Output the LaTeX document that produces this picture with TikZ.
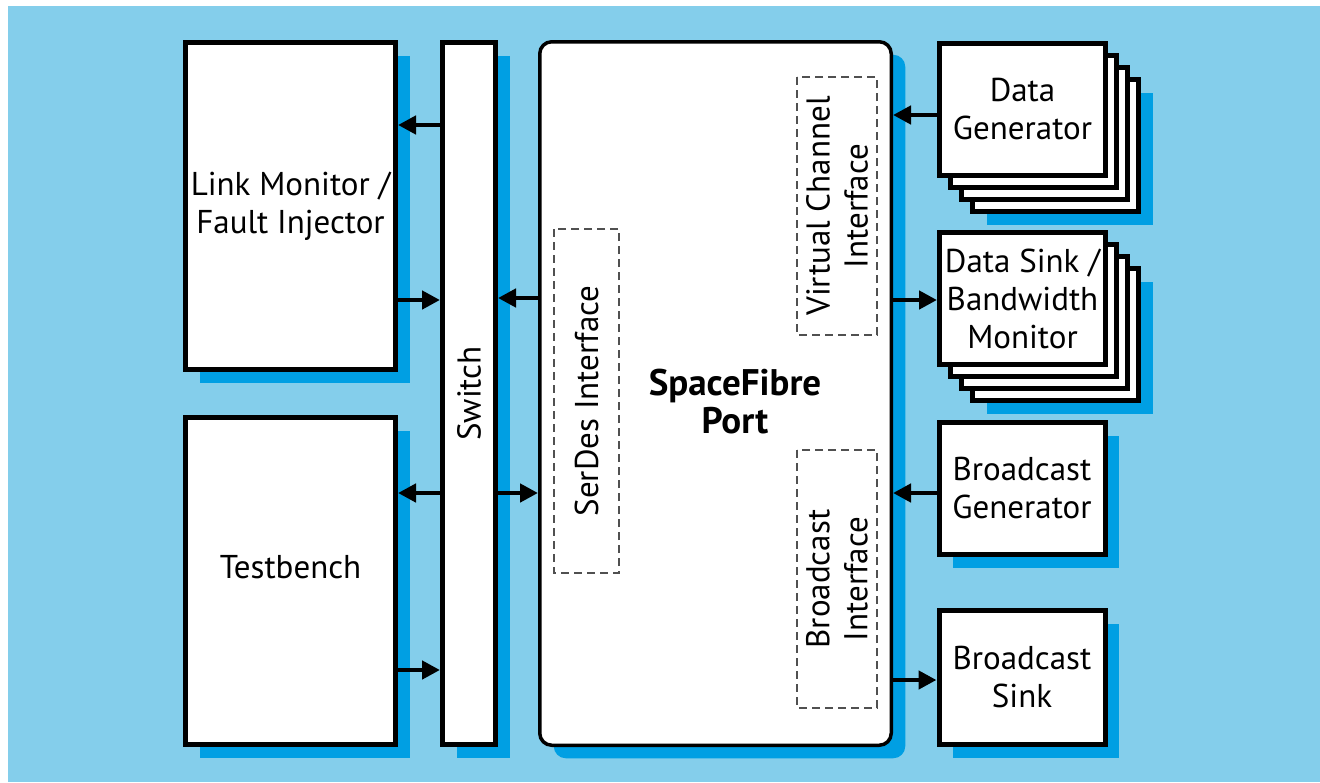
\documentclass[tikz,border=0pt]{standalone}
\usepackage{fontspec}
\setmainfont{PT Sans}
\usetikzlibrary{arrows.meta,shadows}
\definecolor{bgc}{RGB}{132,206,235}
\definecolor{shc}{RGB}{0,159,227}
\definecolor{dshc}{RGB}{80,80,80}
\begin{document}
\begin{tikzpicture}[x=1pt,y=-1pt,
  txt/.style={font=\fontsize{33}{38}\selectfont, align=center},
  blk/.style={draw=black, line width=5pt, fill=white, inner sep=0pt, txt},
  shd/.style={drop shadow={shadow xshift=14pt, shadow yshift=-13pt, fill=shc, opacity=1}},
  dsh/.style={draw=dshc, line width=1.5pt, dash pattern=on 8pt off 5pt, inner sep=0pt, txt},
  arr/.style={line width=4.5pt, -{Triangle[length=18pt,width=18pt]}},
  stk/.style={blk, minimum width=166pt, minimum height=132pt},
]
\useasboundingbox (0,0) rectangle (1320,782);
\fill[white] (0,0) rectangle (1320,782);
\fill[bgc] (8,6) rectangle (1320,782);

% left column
\node[blk, shd, minimum width=210pt, minimum height=327pt] (lm) at (290.5,206) {Link Monitor /\\Fault Injector};
\node[blk, shd, minimum width=210pt, minimum height=327pt] (tb) at (290.5,581) {};
\node[txt] (tbt) at ([yshift=14pt]tb.center) {Testbench};

% switch
\node[blk, shd, minimum width=53pt, minimum height=702pt] (sw) at (469,393.5) {};
\node[txt, rotate=90] (swt) at (sw.center) {Switch};

% port
\node[draw=black, line width=3.5pt, fill=white, rounded corners=12pt, shd,
      minimum width=351.5pt, minimum height=703.5pt] (port) at (715.5,393.5) {};
\node[txt, font=\fontsize{37}{38}\selectfont\bfseries] (portt) at (735,402) {SpaceFibre\\Port};

% dashed interfaces
\node[dsh, rotate=90, minimum width=344pt, minimum height=65pt] (sd) at (586.5,401) {SerDes Interface};
\node[dsh, rotate=90, minimum width=258pt, minimum height=80pt] (vc) at (837,206) {Virtual Channel\\Interface};
\node[dsh, rotate=90, minimum width=258pt, minimum height=80pt] (bi) at (837,579) {Broadcast\\Interface};

% data generator stack
\node[stk, shd] (dg3) at (1055.5,145.5) {};
\node[stk] (dg2) at (1044.5,133.5) {};
\node[stk] (dg1) at (1033.5,121.5) {};
\node[stk] (dg) at (1022.5,109.5) {Data\\Generator};

% data sink stack
\node[stk, shd] (ds3) at (1055.5,334.5) {};
\node[stk] (ds2) at (1044.5,322.5) {};
\node[stk] (ds1) at (1033.5,310.5) {};
\node[stk] (ds) at (1022.5,298.5) {Data Sink /\\Bandwidth\\Monitor};

% broadcast
\node[stk, shd] (bg) at (1022,488.5) {Broadcast\\Generator};
\node[stk, shd, minimum height=134pt] (bs) at (1022,677.5) {Broadcast\\Sink};

% arrows
\draw[arr] (sw.west |- 0,125) -- (lm.east |- 0,125);
\draw[arr] (lm.east |- 0,300) -- (sw.west |- 0,300);
\draw[arr] (sw.west |- 0,493) -- (tb.east |- 0,493);
\draw[arr] (tb.east |- 0,670) -- (sw.west |- 0,670);
\draw[arr] (port.west |- 0,298) -- (sw.east |- 0,298);
\draw[arr] (sw.east |- 0,493) -- (port.west |- 0,493);
\draw[arr] (dg.west |- 0,115) -- (port.east |- 0,115);
\draw[arr] (port.east |- 0,300) -- (ds.west |- 0,300);
\draw[arr] (bg.west |- 0,493) -- (port.east |- 0,493);
\draw[arr] (port.east |- 0,680) -- (bs.west |- 0,680);
\end{tikzpicture}
\end{document}
